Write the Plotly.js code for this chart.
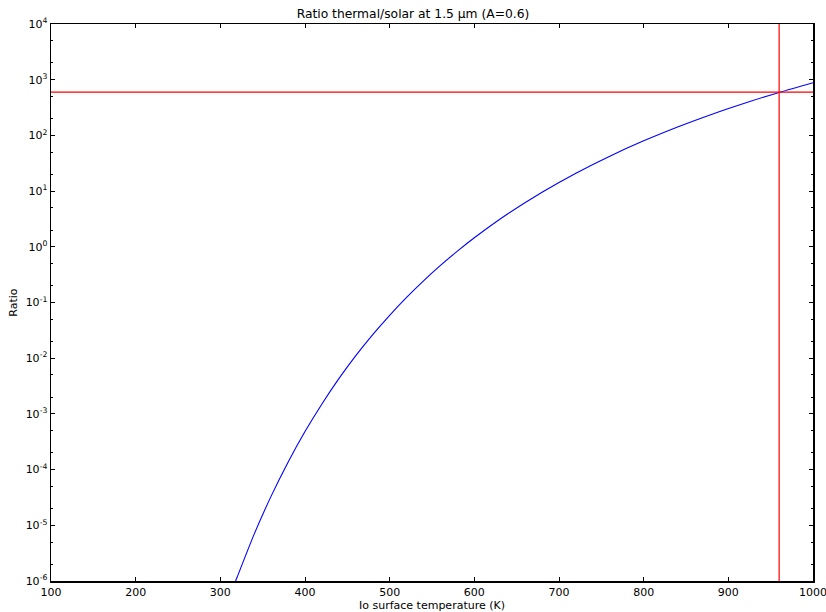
<!DOCTYPE html>
<html>
<head>
<meta charset="utf-8">
<script src="https://cdn.plot.ly/plotly-3.0.1.min.js"></script>
<style>html,body{margin:0;padding:0;background:#fff;}#chart{width:826px;height:612px;}</style>
</head>
<body>
<div id="chart"></div>
<script>
// Io surface temperature (K) and thermal/solar ratio
const temperatureK = [318, 320, 340, 360, 380, 400, 420, 440, 460, 480, 500, 520, 540, 560, 580, 600, 640, 680, 720, 760, 800, 840, 880, 920, 960, 1000];
const ratio = [1.0e-6, 1.19e-6, 6.95e-6, 3.34e-5, 1.36e-4, 4.82e-4, 1.51e-3, 4.29e-3, 0.0111, 0.0265, 0.059, 0.1236, 0.245, 0.463, 0.837, 1.454, 3.96, 9.57, 21.0, 42.4, 79.8, 141.5, 238, 382, 591, 885];
// Reference lines
const thresholdRatio = 600;
const thresholdTemp = 960;
const xRange = [100, 1000];
const yRange = [1e-6, 1e4];
const xTicks = [100, 200, 300, 400, 500, 600, 700, 800, 900, 1000];
const yTickVals = [1e-6, 1e-5, 1e-4, 1e-3, 1e-2, 1e-1, 1e0, 1e1, 1e2, 1e3, 1e4];
const yTickText = ['10<sup>-6</sup>','10<sup>-5</sup>','10<sup>-4</sup>','10<sup>-3</sup>','10<sup>-2</sup>','10<sup>-1</sup>','10<sup>0</sup>','10<sup>1</sup>','10<sup>2</sup>','10<sup>3</sup>','10<sup>4</sup>'];

const traces = [
  {x: temperatureK, y: ratio, mode: 'lines', line: {color: '#0000ff', width: 1.1, shape: 'spline', smoothing: 0.8}, hoverinfo: 'skip'},
  {x: xRange, y: [thresholdRatio, thresholdRatio], mode: 'lines', line: {color: '#ff0000', width: 1.2}, hoverinfo: 'skip'},
  {x: [thresholdTemp, thresholdTemp], y: yRange, mode: 'lines', line: {color: '#ff0000', width: 1.2}, hoverinfo: 'skip'}
];

const fontFam = 'DejaVu Sans, sans-serif';
const layout = {
  width: 826, height: 612,
  margin: {l: 51, r: 13, t: 24, b: 31, pad: 0},
  paper_bgcolor: '#ffffff', plot_bgcolor: '#ffffff',
  showlegend: false,
  font: {family: fontFam, size: 11, color: '#000'},
  title: {text: 'Ratio thermal/solar at 1.5 μm (A=0.6)', font: {family: fontFam, size: 12.3, color: '#000'}, x: 0.5, xanchor: 'center', y: 0.985, yanchor: 'top'},
  xaxis: {
    range: [xRange[0] - 0.01, xRange[1] + 0.01], tickvals: xTicks, ticktext: xTicks.map(String),
    ticklabeloverflow: 'allow',
    showgrid: false, zeroline: false,
    showline: true, linecolor: '#000', linewidth: 1.5, mirror: 'ticks',
    ticks: 'inside', ticklen: 4, tickcolor: '#000', tickwidth: 1,
    tickfont: {family: fontFam, size: 11, color: '#000'},
    title: {text: 'Io surface temperature (K)', font: {family: fontFam, size: 11, color: '#000'}, standoff: 4}
  },
  yaxis: {
    type: 'log', range: [Math.log10(yRange[0]), Math.log10(yRange[1])],
    tickvals: yTickVals, ticktext: yTickText,
    showgrid: false, zeroline: false,
    showline: true, linecolor: '#000', linewidth: 1.5, mirror: 'ticks',
    ticks: 'inside', ticklen: 4, tickcolor: '#000', tickwidth: 1,
    minor: {ticks: 'inside', ticklen: 2, tickcolor: '#000', tickwidth: 1, showgrid: false},
    tickfont: {family: fontFam, size: 11, color: '#000'},
    title: {text: 'Ratio', font: {family: fontFam, size: 11, color: '#000'}, standoff: 6}
  }
};

Plotly.newPlot('chart', traces, layout, {staticPlot: true, displayModeBar: false});
</script>
</body>
</html>
